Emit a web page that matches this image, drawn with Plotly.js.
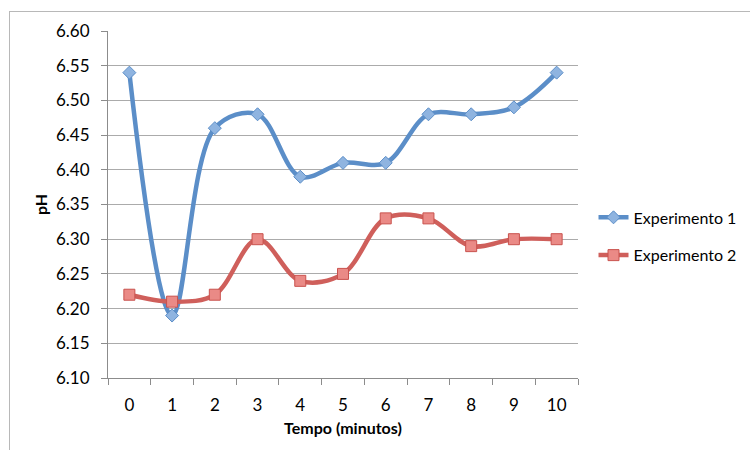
<!DOCTYPE html>
<html>
<head>
<meta charset="utf-8">
<script src="https://cdn.plot.ly/plotly-3.0.1.min.js"></script>
<style>
html,body{margin:0;padding:0;background:#fff;overflow:hidden;}
#frame{position:absolute;left:9px;top:11px;width:800px;height:500px;border:1px solid #b8b8b8;}
#chart{position:absolute;left:0;top:0;width:750px;height:450px;}
</style>
</head>
<body>
<div id="frame"></div>
<div id="chart"></div>
<script>
const categories = ["0","1","2","3","4","5","6","7","8","9","10"];
const experimento1 = [6.54, 6.19, 6.46, 6.48, 6.39, 6.41, 6.41, 6.48, 6.48, 6.49, 6.54];
const experimento2 = [6.22, 6.21, 6.22, 6.30, 6.24, 6.25, 6.33, 6.33, 6.29, 6.30, 6.30];
const yTicks = [6.10, 6.15, 6.20, 6.25, 6.30, 6.35, 6.40, 6.45, 6.50, 6.55, 6.60];
const seriesNames = ["Experimento 1", "Experimento 2"];

const font = "Lato, 'Open Sans', sans-serif";

const traces = [
  {
    x: categories, y: experimento1, name: seriesNames[0], legendgroup: "g1",
    type: "scatter", mode: "lines+markers",
    line: {color: "#5b8ec8", width: 4.5, shape: "spline", smoothing: 1},
    marker: {symbol: "diamond", size: 10, color: "#8fb4e0", line: {color: "#5b8ec8", width: 1}}
  },
  {
    x: categories, y: experimento2, name: seriesNames[1], legendgroup: "g2",
    type: "scatter", mode: "lines+markers",
    line: {color: "#cf5f5b", width: 4.5, shape: "spline", smoothing: 1},
    marker: {symbol: "square", size: 11, color: "#ea8a86", line: {color: "#c9524e", width: 1}}
  }
];

const layout = {
  width: 750, height: 450,
  margin: {l: 108, r: 172, t: 31, b: 72, autoexpand: false},
  paper_bgcolor: "rgba(0,0,0,0)",
  plot_bgcolor: "#fff",
  font: {family: font, size: 17, color: "#000"},
  showlegend: true,
  legend: {
    x: 1.033, xanchor: "left", y: 0.408, yanchor: "middle",
    traceorder: "grouped", tracegroupgap: 14,
    font: {family: font, size: 16, color: "#000"},
    bgcolor: "rgba(0,0,0,0)", itemwidth: 30
  },
  xaxis: {
    type: "category",
    range: [-0.5, 10.5],
    tickson: "boundaries",
    ticks: "outside", ticklen: 6, tickcolor: "#8c8c8c",
    ticklabelstandoff: 12,
    showline: true, linecolor: "#8c8c8c", linewidth: 1,
    showgrid: false, zeroline: false,
    tickfont: {family: font, size: 17},
    title: {text: "<b>Tempo (minutos)</b>", font: {family: font, size: 16}, standoff: 8}
  },
  yaxis: {
    range: [6.10, 6.60],
    tickvals: yTicks,
    tickformat: ".2f",
    ticks: "outside", ticklen: 6, tickcolor: "#8c8c8c",
    ticklabelstandoff: 8,
    showline: true, linecolor: "#8c8c8c", linewidth: 1,
    showgrid: true, gridcolor: "#ababab", gridwidth: 1,
    zeroline: false,
    tickfont: {family: font, size: 17},
    title: {text: "<b>pH</b>", font: {family: font, size: 16}, standoff: 4}
  }
};

Plotly.newPlot("chart", traces, layout, {displayModeBar: false, staticPlot: true});
</script>
</body>
</html>
